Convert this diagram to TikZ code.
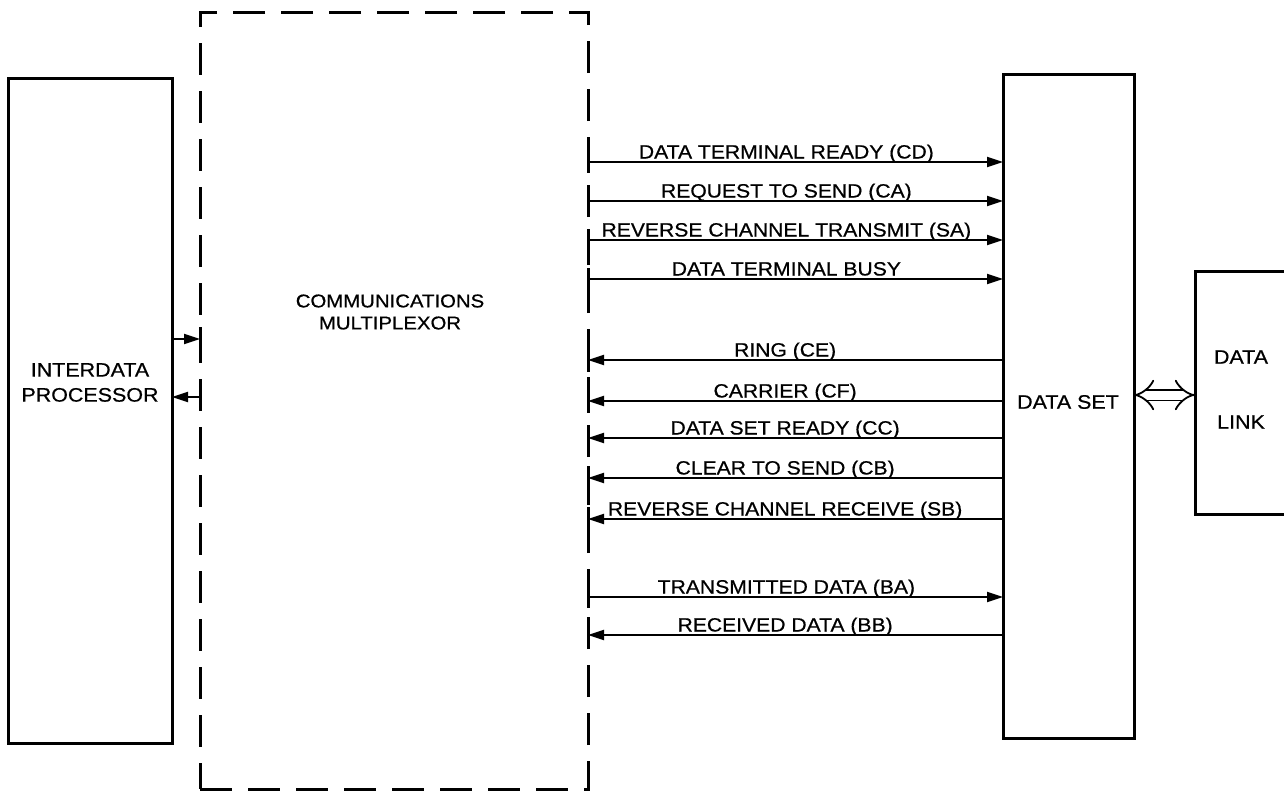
\documentclass[tikz,border=0pt]{standalone}
\usepackage{fontspec}
\setmainfont{Liberation Sans}[FakeStretch=1.1, FakeBold=0.6]
\usetikzlibrary{arrows.meta}
\begin{document}
\begin{tikzpicture}[x=1pt,y=-1pt,
  box/.style={draw, line width=3pt, inner sep=0pt, outer sep=0pt},
  dbox/.style={draw, line width=3pt, dash pattern=on 32pt off 16pt, inner sep=0pt, outer sep=0pt},
  lbl/.style={font=\fontsize{19.5}{22}\selectfont, align=center, inner sep=0pt},
  slbl/.style={font=\fontsize{19.2}{22}\selectfont, inner sep=0pt},
  sig/.style={line width=2pt},
  tip/.style={-{Triangle[length=16pt,width=10pt]}},
  tick/.style={line width=3pt}
]
\useasboundingbox (0,0) rectangle (1284,790);
% boxes
\node[box, minimum width=164pt, minimum height=665pt] (proc) at (90,410.5) {};
\node[dbox, minimum width=388pt, minimum height=777pt] (mux) at (394,400.5) {};
\node[box, minimum width=131pt, minimum height=664pt] (ds) at (1068.5,406) {};
\node[box, minimum width=110pt, minimum height=243pt] (dl) at (1250,392.5) {};
% box texts
\node[lbl, font=\fontsize{19.5}{25}\selectfont] (proct) at (90,382.5) {INTERDATA\\PROCESSOR};
\node[lbl, font=\fontsize{18.5}{22}\selectfont] (muxt) at (390,312) {COMMUNICATIONS\\MULTIPLEXOR};
\node[lbl] (dst) at (1068,402) {DATA SET};
\node[lbl, font=\fontsize{19.5}{65}\selectfont] (dlt) at (1241,389.5) {DATA\\LINK};
% processor <-> multiplexor
\draw[sig, tip] (proc.east |- 0,339) -- (mux.west |- 0,339) coordinate (pm1);
\draw[tick] (pm1) ++(0,-12) -- ++(0,24);
\draw[sig, tip] (mux.west |- 0,397) coordinate (pm2) -- (proc.east |- 0,397);
\draw[tick] (pm2) ++(0,-12) -- ++(0,24);
% outgoing signals
\foreach \y/\t/\n in {162/DATA TERMINAL READY (CD)/a,
                      201/REQUEST TO SEND (CA)/b,
                      240/REVERSE CHANNEL TRANSMIT (SA)/c,
                      279/DATA TERMINAL BUSY/d,
                      597/TRANSMITTED DATA (BA)/e}{
  \draw[sig, tip] (mux.east |- 0,\y) coordinate (o\n)
     -- node[slbl, pos=0.478, anchor=base, yshift=3.5pt] (t\n) {\t} (ds.west |- 0,\y);
  \draw[tick] (o\n) ++(0,-11) -- ++(0,22);
}
% incoming signals
\foreach \y/\t/\n in {360/RING (CE)/f,
                      401/CARRIER (CF)/g,
                      438/DATA SET READY (CC)/h,
                      478/CLEAR TO SEND (CB)/i,
                      519/REVERSE CHANNEL RECEIVE (SB)/j,
                      635/RECEIVED DATA (BB)/k}{
  \draw[sig, tip] (ds.west |- 0,\y)
     -- node[slbl, pos=0.525, anchor=base, yshift=3.5pt] (t\n) {\t} (mux.east |- 0,\y) coordinate (i\n);
  \draw[tick] (i\n) ++(0,-12) -- ++(0,24);
}
% data set <-> data link
\draw[line width=1.8pt, double distance=9pt, {Implies}-{Implies}] (ds.east |- 0,395) -- (dl.west |- 0,395);
\end{tikzpicture}
\end{document}
